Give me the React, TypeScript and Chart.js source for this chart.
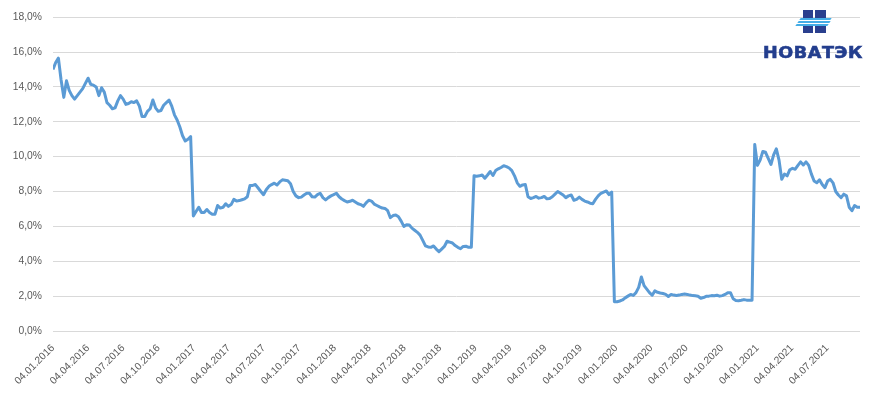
import React, { useEffect, useRef } from "react";
import { Chart, registerables } from "chart.js";

Chart.register(...registerables);

// Quarterly tick labels on the date axis
const tickLabels = [
  "04.01.2016", "04.04.2016", "04.07.2016", "04.10.2016",
  "04.01.2017", "04.04.2017", "04.07.2017", "04.10.2017",
  "04.01.2018", "04.04.2018", "04.07.2018", "04.10.2018",
  "04.01.2019", "04.04.2019", "04.07.2019", "04.10.2019",
  "04.01.2020", "04.04.2020", "04.07.2020", "04.10.2020",
  "04.01.2021", "04.04.2021", "04.07.2021",
];

// Weekly observations (%), first one on 04.01.2016
const y2016 = [
  15.0, 15.4, 15.65, 14.4, 13.4, 14.35, 13.8, 13.5, 13.3, 13.5,
  13.7, 13.9, 14.2, 14.5, 14.15, 14.1, 14.0, 13.5, 13.95, 13.7,
  13.1, 12.95, 12.75, 12.8, 13.2, 13.5, 13.3, 13.0, 13.05, 13.15,
  13.1, 13.2, 12.9, 12.3, 12.3, 12.6, 12.75, 13.25, 12.8, 12.6,
  12.65, 12.95, 13.1, 13.25, 12.9, 12.4, 12.1, 11.7, 11.2, 10.9,
  11.0, 11.15,
];
const y2017 = [
  6.6, 6.85, 7.1, 6.8, 6.8, 6.97, 6.8, 6.7, 6.7, 7.2,
  7.05, 7.1, 7.3, 7.15, 7.25, 7.55, 7.45, 7.48, 7.53, 7.58,
  7.7, 8.35, 8.35, 8.4, 8.2, 8.0, 7.82, 8.1, 8.3, 8.4,
  8.48, 8.38, 8.55, 8.67, 8.65, 8.62, 8.45, 8.0, 7.75, 7.65,
  7.68, 7.8, 7.9, 7.9, 7.7, 7.68, 7.82, 7.9, 7.65, 7.52,
  7.65, 7.75,
];
const y2018 = [
  7.82, 7.9, 7.7, 7.57, 7.48, 7.4, 7.44, 7.5, 7.4, 7.3,
  7.25, 7.15, 7.35, 7.5, 7.45, 7.28, 7.2, 7.12, 7.05, 7.03,
  6.9, 6.5, 6.62, 6.65, 6.55, 6.3, 6.0, 6.1, 6.08, 5.9,
  5.78, 5.66, 5.5, 5.2, 4.88, 4.82, 4.8, 4.88, 4.7, 4.55,
  4.7, 4.85, 5.15, 5.1, 5.05, 4.9, 4.8, 4.72, 4.85, 4.86,
  4.8, 4.8,
];
const y2019 = [
  8.9, 8.88, 8.9, 8.95, 8.76, 8.95, 9.15, 8.92, 9.2, 9.3,
  9.38, 9.48, 9.43, 9.35, 9.2, 8.9, 8.5, 8.3, 8.38, 8.4,
  7.7, 7.6, 7.65, 7.72, 7.62, 7.65, 7.72, 7.58, 7.6, 7.7,
  7.85, 8.0, 7.9, 7.8, 7.65, 7.75, 7.8, 7.5, 7.55, 7.68,
  7.55, 7.45, 7.4, 7.33, 7.3, 7.55, 7.75, 7.9, 7.97, 8.03,
  7.82, 7.97,
];
const y2020 = [
  1.68, 1.68, 1.72, 1.78, 1.9, 2.0, 2.1, 2.04, 2.2, 2.5,
  3.1, 2.6, 2.4, 2.2, 2.05, 2.3, 2.22, 2.18, 2.15, 2.1,
  1.98, 2.1, 2.06, 2.04, 2.06, 2.1, 2.12, 2.1, 2.06, 2.03,
  2.02, 1.99, 1.88, 1.92, 1.99, 2.0, 2.03, 2.02, 2.05, 2.0,
  2.03, 2.1, 2.2, 2.2, 1.85, 1.75, 1.74, 1.76, 1.8, 1.77,
  1.76, 1.76,
];
const y2021 = [
  10.7, 9.5, 9.8, 10.3, 10.25, 9.9, 9.55, 10.1, 10.45, 9.8,
  8.7, 9.0, 8.9, 9.25, 9.33, 9.28, 9.5, 9.7, 9.52, 9.7,
  9.5, 9.0, 8.6, 8.5, 8.67, 8.4, 8.22, 8.6, 8.7, 8.5,
  8.0, 7.8, 7.65, 7.85, 7.75, 7.1, 6.9, 7.2, 7.1, 7.1,
];

const yields = [...y2016, ...y2017, ...y2018, ...y2019, ...y2020, ...y2021];

const DAY_MS = 86400000;
const START_MS = Date.UTC(2016, 0, 4);
const dayOffset = (dmy: string) => {
  const [d, m, y] = dmy.split(".").map(Number);
  return Math.round((Date.UTC(y, m - 1, d) - START_MS) / DAY_MS);
};
const tickOffsets = tickLabels.map(dayOffset);
const points = yields.map((v, i) => ({ x: i * 7, y: v }));
const lastDay = (yields.length - 1) * 7;

const FONT = { family: "'Liberation Sans', Arial, sans-serif", size: 10.3 };

export default function App() {
  const canvasRef = useRef<HTMLCanvasElement | null>(null);

  useEffect(() => {
    if (!canvasRef.current) return;
    const chart = new Chart(canvasRef.current, {
      type: "line",
      data: {
        datasets: [
          {
            data: points,
            borderColor: "#5b9bd5",
            borderWidth: 3,
            pointRadius: 0,
            fill: false,
            tension: 0,
            borderJoinStyle: "round",
          },
        ],
      },
      options: {
        animation: false,
        responsive: false,
        layout: { padding: { left: 8, right: 24, top: 14, bottom: 0 } },
        plugins: { legend: { display: false }, tooltip: { enabled: false } },
        scales: {
          x: {
            type: "linear",
            min: 0,
            max: lastDay,
            grid: { display: false },
            border: { display: false },
            afterBuildTicks: (s: any) => {
              s.ticks = tickOffsets.map((v) => ({ value: v }));
            },
            afterFit: (s: any) => {
              s.height = 66;
            },
            ticks: {
              autoSkip: false,
              minRotation: 45,
              maxRotation: 45,
              padding: 3,
              color: "#595959",
              font: FONT,
              callback: (_v: any, i: number) => tickLabels[i],
            },
          },
          y: {
            min: 0,
            max: 18,
            afterFit: (s: any) => {
              s.width = 45;
            },
            grid: { color: "#d9d9d9", drawTicks: false },
            border: { display: false },
            ticks: {
              stepSize: 2,
              padding: 11,
              color: "#595959",
              font: FONT,
              callback: (v: any) => Number(v).toFixed(1).replace(".", ",") + "%",
            },
          },
        },
      },
    });
    return () => chart.destroy();
  }, []);

  const dark = "#2a3f8e";
  const light = "#45ade6";
  const block = (left: number, top: number, w: number, h: number, c: string, extra: any = {}) => (
    <div style={{ position: "absolute", left, top, width: w, height: h, background: c, ...extra }} />
  );

  return (
    <div style={{ position: "absolute", left: 0, top: 0, width: 884, height: 397, background: "#fff" }}>
      <canvas ref={canvasRef} width={884} height={397} style={{ display: "block" }} />
      {block(803, 10, 10, 8, dark)}
      {block(815, 10, 11, 8, dark)}
      {block(803, 26, 10, 7, dark)}
      {block(815, 26, 11, 7, dark)}
      {block(800, 18, 31, 2, light, { transform: "skewX(-35deg)" })}
      {block(798, 21, 32, 2, light, { transform: "skewX(-35deg)" })}
      {block(796, 24, 32, 2, light, { transform: "skewX(-35deg)" })}
      <div
        style={{
          position: "absolute",
          left: 763,
          top: 45,
          fontFamily: "'DejaVu Sans', sans-serif",
          fontWeight: 900,
          fontSize: 16,
          lineHeight: "16px",
          letterSpacing: 0.5,
          color: "#233e8e",
          transform: "scaleX(1.1)",
          transformOrigin: "left top",
          WebkitTextStroke: "0.6px #233e8e",
          whiteSpace: "nowrap",
        }}
      >
        НОВАТЭК
      </div>
    </div>
  );
}
